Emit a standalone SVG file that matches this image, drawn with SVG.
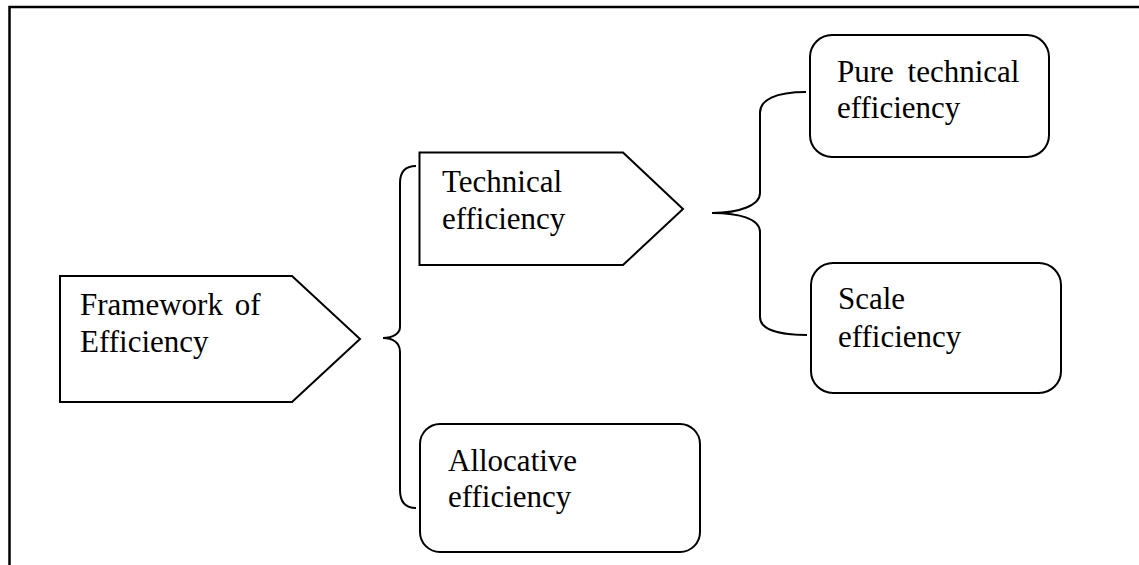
<svg xmlns="http://www.w3.org/2000/svg" width="1139" height="565" viewBox="0 0 1139 565">
<style>
.shape{fill:#fff;stroke:#000;stroke-width:2}
.brace{fill:none;stroke:#000;stroke-width:2}
.frame{fill:none;stroke:#000;stroke-width:2.5}
.t{font-family:'Liberation Serif',Tinos,'Noto Serif','DejaVu Serif',FreeSerif,'Nimbus Roman','Times New Roman',Times,serif;font-size:31px;fill:#000}
</style>
<rect width="1139" height="565" fill="#fff"/>
<path class="frame" d="M9.5,565 V7 H1139"/>
<g id="framework">
<polygon class="shape" points="60,276 292,276 360,339 292,402 60,402"/>
<text class="t" x="80" y="315" word-spacing="4">Framework of</text>
<text class="t" x="80" y="352">Efficiency</text>
</g>
<g id="technical">
<polygon class="shape" points="419.5,152.5 623,152.5 683,209 623,265 419.5,265"/>
<text class="t" x="442" y="192">Technical</text>
<text class="t" x="442" y="229">efficiency</text>
</g>
<g id="allocative">
<rect class="shape" x="420" y="424" width="280" height="128" rx="20" ry="20"/>
<text class="t" x="448" y="471">Allocative</text>
<text class="t" x="448" y="507">efficiency</text>
</g>
<g id="pure">
<rect class="shape" x="810" y="35" width="239" height="122" rx="22" ry="22"/>
<text class="t" x="837" y="82" word-spacing="6">Pure technical</text>
<text class="t" x="837" y="118">efficiency</text>
</g>
<g id="scale">
<rect class="shape" x="811" y="263" width="250" height="130" rx="22" ry="22"/>
<text class="t" x="838" y="309">Scale</text>
<text class="t" x="838" y="347">efficiency</text>
</g>
<g id="connectors">
<path class="brace" d="M416,166 C405,166 400,172 400,183 V327 C400,334 392,338 383,338 C392,338 400,342 400,352 V490 C400,501 405,508 416,508"/>
<path class="brace" d="M806,92 C775,92 760,100 760,113 V193 C760,205 740,213 712,213 C740,213 760,219 760,232 V317 C760,328 775,335 807,335"/>
</g>
</svg>
